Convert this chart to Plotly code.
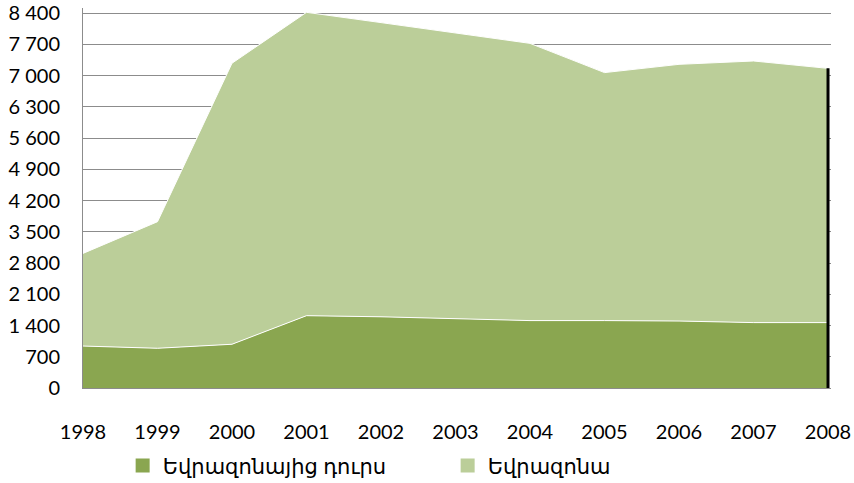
import plotly.graph_objects as go

# data
years = [1998, 1999, 2000, 2001, 2002, 2003, 2004, 2005, 2006, 2007, 2008]
outside_ez = [940, 890, 980, 1620, 1595, 1560, 1510, 1510, 1500, 1465, 1465]
eurozone = [2075, 2835, 6295, 6795, 6590, 6390, 6210, 5555, 5750, 5860, 5695]
y_ticks = [0, 700, 1400, 2100, 2800, 3500, 4200, 4900, 5600, 6300, 7000, 7700, 8400]

name_outside = "Եվրազոնայից դուրս"
name_ez = "Եվրազոնա"

dark_green = "#8AA650"
light_green = "#BBCE99"
grid_grey = "#8C8C8C"

font_family = "Lato, 'DejaVu Sans', sans-serif"


def main():
    fig = go.Figure()
    fig.add_trace(go.Scatter(
        x=years, y=outside_ez, name=name_outside,
        stackgroup="one", mode="lines",
        line=dict(color="white", width=1),
        fillcolor=dark_green, showlegend=False))
    fig.add_trace(go.Scatter(
        x=years, y=eurozone, name=name_ez,
        stackgroup="one", mode="lines",
        line=dict(color="white", width=1),
        fillcolor=light_green, showlegend=False))

    # dark edge at the right end of the stacked area
    total_last = outside_ez[-1] + eurozone[-1]
    fig.add_trace(go.Scatter(
        x=[years[-1], years[-1]], y=[0, total_last],
        mode="lines", line=dict(color="black", width=3),
        showlegend=False, hoverinfo="skip"))

    # legend entries with square swatches like the original
    for name, col in [(name_outside, dark_green), (name_ez, light_green)]:
        fig.add_trace(go.Scatter(
            x=[None], y=[None], name=name, mode="markers",
            marker=dict(symbol="square", size=14, color=col)))

    fig.update_layout(
        template="none",
        width=854, height=483,
        margin=dict(l=83, r=23, t=8, b=95, autoexpand=False),
        plot_bgcolor="white", paper_bgcolor="white",
        separators=", ",
        font=dict(family=font_family, size=20, color="black"),
        showlegend=True,
        legend=dict(
            orientation="h", x=0.053, y=-0.205,
            xanchor="left", yanchor="middle",
            entrywidth=280, entrywidthmode="pixels",
            font=dict(size=21), traceorder="normal",
            bgcolor="rgba(0,0,0,0)"),
    )
    fig.update_xaxes(
        range=[1998, 2008.04], tickvals=years,
        showgrid=False, zeroline=False, automargin=False,
        showline=True, linecolor=grid_grey, linewidth=1,
        ticks="", ticklabelstandoff=26, ticklabeloverflow="allow")
    fig.update_yaxes(
        range=[0, 8512], tickvals=y_ticks, tickformat=",d",
        showgrid=True, gridcolor=grid_grey, gridwidth=1,
        zeroline=False, automargin=False,
        showline=True, linecolor=grid_grey, linewidth=1,
        ticks="", ticklabelstandoff=18, ticklabeloverflow="allow")

    # drop the default body margin so the figure fills the window exactly
    fig.write_html("out.html",
                   config={"displayModeBar": False},
                   post_script="document.body.style.margin = '0';")


if __name__ == "__main__":
    main()
